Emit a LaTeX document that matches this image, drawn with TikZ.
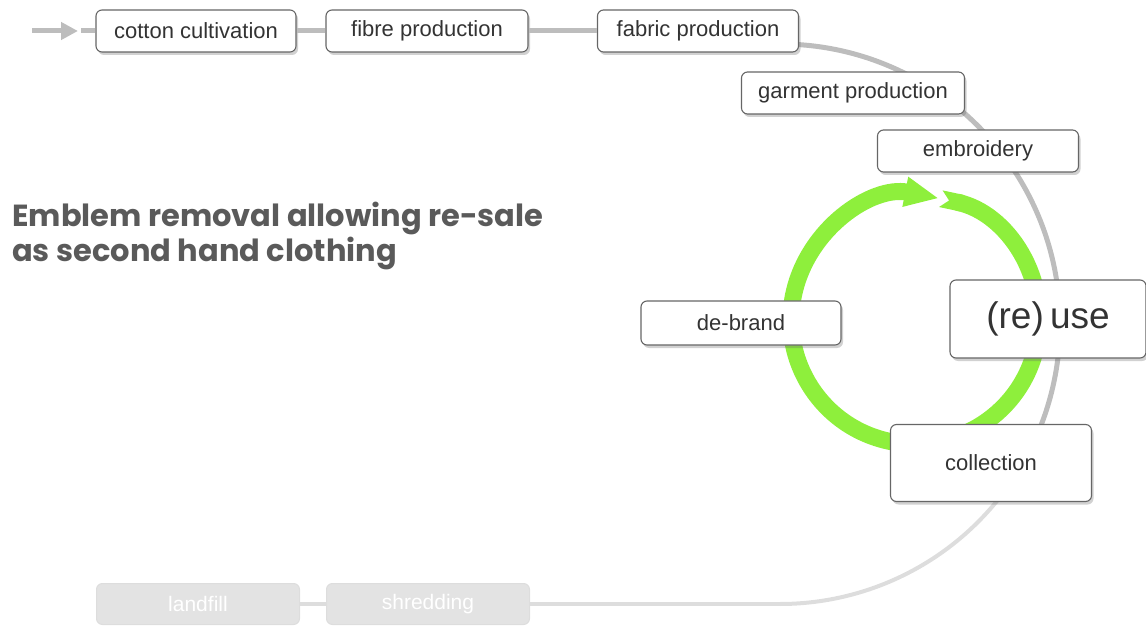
\documentclass[tikz,border=0pt]{standalone}
\usepackage{fontspec}
\setmainfont{Liberation Sans}
\newfontfamily\titlefont{Poppins}
\usetikzlibrary{arrows.meta, positioning, shadows}

\definecolor{boxline}{HTML}{666666}
\definecolor{boxtext}{HTML}{333333}
\definecolor{flowgrey}{HTML}{BDBDBD}
\definecolor{fadegrey}{HTML}{DDDDDD}
\definecolor{fadefill}{HTML}{E3E3E3}
\definecolor{lime}{HTML}{8EEF3C}
\definecolor{titlegrey}{HTML}{5A5A5A}

\tikzset{
    stage/.style={draw=boxline, line width=1.1pt, rounded corners=6pt, fill=white, text=boxtext,
        minimum width=200pt, minimum height=42pt, inner sep=0pt, font=\fontsize{22}{26}\selectfont,
        drop shadow={shadow xshift=2pt, shadow yshift=-3pt, opacity=0.3, fill=black!60}},
    gone/.style={draw=fadegrey, line width=1pt, rounded corners=6pt, fill=fadefill, text=white,
        minimum width=203pt, minimum height=41pt, inner sep=0pt, font=\fontsize{21}{25}\selectfont},
    flow/.style={line width=5pt, draw=flowgrey},
    fadeflow/.style={line width=4pt, draw=fadegrey},
}

\begin{document}
\begin{tikzpicture}[x=1pt, y=1pt]
    \useasboundingbox (0,0) rectangle (1146,-628);

    % Loops (behind the boxes)
    \coordinate (arctop) at (780,-44);
    \draw[flow] (arctop) arc[start angle=90, end angle=-38, radius=280] coordinate (arcmid);
    \draw[fadeflow] (arcmid) arc[start angle=-38, end angle=-90, radius=280] coordinate (arcbottom);
    \draw[line width=17pt, draw=lime, {Triangle Cap[reversed]}-{Triangle[length=34pt, width=28pt]}]
        (915,-320) ++(78:124) arc[start angle=78, end angle=-281, radius=124];

    % Nodes
    \node[stage, minimum width=200pt] (cotton) at (196,-31) {cotton cultivation};
    \node[stage, minimum width=202pt] (fibre) at (427,-31) {fibre production};
    \node[stage, minimum width=201pt] (fabric) at (698,-31) {fabric production};
    \node[stage, minimum width=223pt] (garment) at (853,-93) {garment production};
    \node[stage, minimum width=201pt] (embroidery) at (978,-151) {embroidery};
    \node[stage, minimum height=44pt] (debrand) at (741,-323) {de-brand};
    \node[stage, minimum width=196pt, minimum height=78pt, font=\fontsize{37}{41}\selectfont] (reuse) at (1048,-319) {(re)\,use};
    \node[stage, minimum width=201pt, minimum height=77pt] (collection) at (991,-463) {collection};
    \node[gone] (landfill) at (198,-604) {landfill};
    \node[gone] (shredding) at (428,-604) {shredding};

    \node[anchor=north west, inner sep=0pt, align=left, text=titlegrey,
        font=\titlefont\bfseries\fontsize{30.5}{35}\selectfont] (title) at (12,-202)
        {Emblem removal allowing re-sale\\as second hand clothing};

    % Connections
    \coordinate (feed) at (32,-31);
    \coordinate (feedtip) at (78,-31);
    \coordinate (feedgap) at (81,-31);
    \draw[flow, -{Triangle[length=17pt, width=17pt]}] (feed) -- (feedtip);
    \draw[flow] (feedgap) -- (cotton);
    \draw[flow] (cotton) -- (fibre);
    \draw[flow] (fibre) -- (fabric);
    \draw[fadeflow] (arcbottom) -- (shredding);
    \draw[fadeflow] (shredding) -- (landfill);
\end{tikzpicture}
\end{document}
